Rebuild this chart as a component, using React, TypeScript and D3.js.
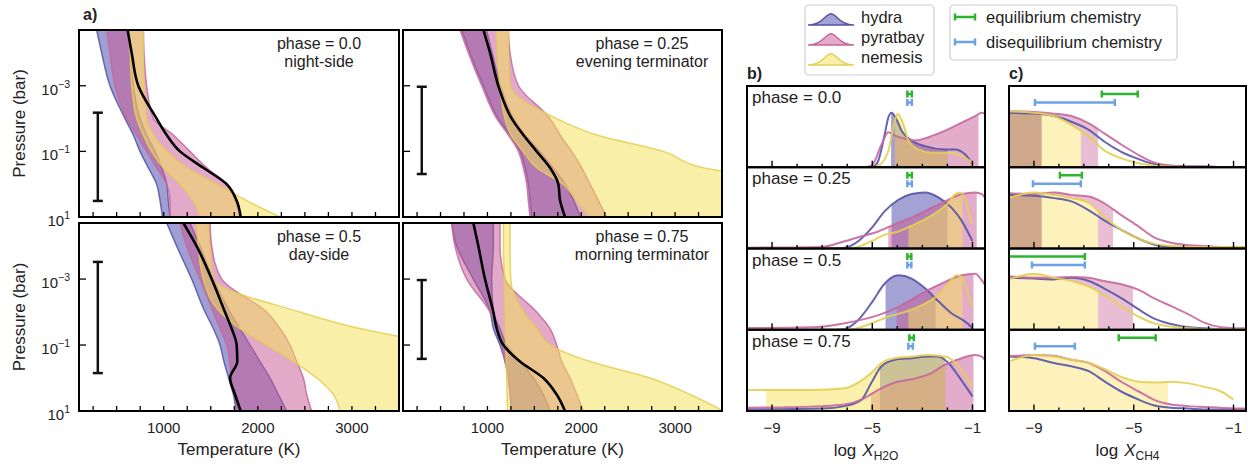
import React from "react";
import * as d3 from "d3";

// ---------------- panel a: temperature-pressure profiles ----------------
const logP = [-4.7, -4, -3, -2, -1.5, -1, -0.5, 0, 0.5, 1];
const phaseTitles = ["phase = 0.0", "phase = 0.25", "phase = 0.5", "phase = 0.75"];
const phaseNames = ["night-side", "evening terminator", "day-side", "morning terminator"];

// envelopes (K) on the logP levels, one row per phase
const hydraLo = [
  [288, 341, 429, 589, 677, 748, 837, 925, 961, 986],
  [725, 814, 957, 1116, 1241, 1348, 1401, 1436, 1454, 1472],
  [1032, 1138, 1297, 1439, 1527, 1598, 1640, 1690, 1740, 1770],
  [619, 672, 850, 1030, 1063, 1134, 1188, 1223, 1241, 1259],
];
const hydraHi = [
  [624, 642, 677, 748, 819, 908, 978, 1032, 1049, 1067],
  [990, 1050, 1140, 1280, 1400, 1560, 1700, 1830, 1920, 1990],
  [1279, 1386, 1527, 1705, 1811, 1917, 2023, 2130, 2218, 2307],
  [1063, 1063, 1045, 1063, 1134, 1205, 1347, 1490, 1596, 1667],
];
const pyratLo = [
  [394, 429, 483, 607, 713, 819, 925, 1032, 1067, 1067],
  [708, 797, 939, 1099, 1223, 1330, 1383, 1419, 1436, 1454],
  [1173, 1244, 1386, 1527, 1598, 1669, 1700, 1720, 1760, 1775],
  [619, 654, 779, 1028, 1099, 1152, 1188, 1223, 1241, 1259],
];
const pyratHi = [
  [784, 791, 819, 890, 1102, 1279, 1457, 1669, 1758, 1811],
  [1223, 1241, 1330, 1667, 1774, 1898, 2005, 2094, 2183, 2272],
  [1492, 1510, 1616, 2094, 2236, 2342, 2413, 2484, 2519, 2572],
  [1134, 1134, 1188, 1525, 1667, 1738, 1792, 1880, 1952, 2023],
];
const nemesisLo = [
  [624, 642, 660, 713, 784, 872, 996, 1173, 1315, 1386],
  [1099, 1106, 1134, 1187, 1250, 1380, 1525, 1806, 1952, 2090],
  [1350, 1368, 1421, 1598, 1811, 2094, 2378, 2626, 2803, 2873],
  [1170, 1170, 1180, 1188, 1190, 1195, 1200, 1205, 1210, 1215],
];
const nemesisHi = [
  [784, 784, 791, 819, 890, 1032, 1244, 1563, 1882, 2236],
  [1223, 1223, 1241, 1738, 2165, 2876, 3300, 4500, 5500, 6500],
  [1474, 1485, 1527, 2448, 3086, 4000, 5000, 6000, 7000, 8000],
  [1241, 1241, 1248, 1383, 1525, 1667, 2094, 2733, 3160, 3515],
];
const refProfile = [
  [617, 660, 730, 925, 1032, 1173, 1421, 1669, 1775, 1818],
  [957, 1028, 1116, 1259, 1383, 1525, 1667, 1756, 1774, 1827],
  [1209, 1350, 1510, 1651, 1722, 1775, 1782, 1705, 1758, 1818],
  [850, 903, 974, 1063, 1099, 1170, 1347, 1596, 1738, 1827],
];
const probedRange = [[-2.18, 0.51], [-2.97, -0.31], [-3.52, -0.15], [-2.97, -0.58]];
const tempTicks = [1000, 2000, 3000];
const pressTicks = [-3, -1, 1];

// ---------------- panel b: log X_H2O posteriors ([logX, density]) ----------------
const bHydra = [
  [[-10, 0], [-5.2, 0], [-4.95, 0.01], [-4.76, 0.08], [-4.5, 0.41], [-4.36, 0.61], [-4.23, 0.67], [-4.05, 0.6], [-3.83, 0.45], [-3.43, 0.33], [-2.9, 0.26], [-2.1, 0.22], [-1.7, 0.22], [-1.3, 0.16], [-1.0, 0.04]],
  [[-10, 0], [-6.5, 0], [-6.1, 0.01], [-5.56, 0.09], [-5.03, 0.25], [-4.5, 0.46], [-3.96, 0.6], [-3.43, 0.67], [-2.89, 0.69], [-2.36, 0.63], [-1.83, 0.5], [-1.43, 0.34], [-1.0, 0.09]],
  [[-10, 0], [-6.5, 0], [-6.1, 0.01], [-5.56, 0.12], [-5.03, 0.33], [-4.5, 0.57], [-3.96, 0.67], [-3.43, 0.63], [-2.89, 0.51], [-2.36, 0.35], [-1.83, 0.2], [-1.29, 0.1], [-1.0, 0.02]],
  [[-10, 0.02], [-7, 0.03], [-6.1, 0.06], [-5.43, 0.14], [-5.03, 0.35], [-4.63, 0.55], [-4.09, 0.63], [-3.43, 0.65], [-2.76, 0.67], [-2.36, 0.67], [-1.96, 0.59], [-1.56, 0.43], [-1.0, 0.18]],
];
const bPyrat = [
  [[-10, 0], [-5.3, 0], [-5.0, 0.03], [-4.63, 0.28], [-4.36, 0.43], [-4.09, 0.39], [-3.69, 0.35], [-3.29, 0.33], [-2.76, 0.37], [-2.09, 0.45], [-1.43, 0.55], [-0.89, 0.63], [-0.63, 0.67], [-0.3, 0.6]],
  [[-10, 0.01], [-7, 0.02], [-6.1, 0.09], [-5.43, 0.15], [-4.76, 0.21], [-4.09, 0.3], [-3.43, 0.38], [-2.76, 0.48], [-2.09, 0.58], [-1.43, 0.67], [-0.89, 0.69], [-0.63, 0.67], [-0.36, 0.55]],
  [[-10, 0.02], [-7.43, 0.03], [-6.1, 0.08], [-4.76, 0.18], [-4.09, 0.26], [-3.43, 0.37], [-2.76, 0.49], [-2.09, 0.59], [-1.43, 0.67], [-0.89, 0.69], [-0.63, 0.61], [-0.4, 0.5]],
  [[-10, 0.04], [-7, 0.06], [-6.1, 0.08], [-5.43, 0.14], [-4.76, 0.26], [-4.09, 0.35], [-3.43, 0.39], [-2.76, 0.45], [-2.09, 0.57], [-1.43, 0.65], [-0.89, 0.69], [-0.63, 0.67], [-0.36, 0.55]],
];
const bNemesis = [
  [[-10, 0], [-5, 0], [-4.7, 0.03], [-4.5, 0.1], [-4.36, 0.2], [-4.16, 0.49], [-3.99, 0.66], [-3.76, 0.53], [-3.56, 0.33], [-3.16, 0.22], [-2.63, 0.18], [-1.96, 0.18], [-1.43, 0.14], [-1.03, 0.06]],
  [[-10, 0], [-6, 0], [-5.7, 0.01], [-5.03, 0.09], [-4.5, 0.17], [-3.96, 0.21], [-3.43, 0.28], [-2.89, 0.36], [-2.36, 0.46], [-1.96, 0.56], [-1.69, 0.67], [-1.49, 0.69], [-1.29, 0.6], [-1.03, 0.3]],
  [[-10, 0], [-6, 0], [-5.7, 0.01], [-5.03, 0.08], [-4.36, 0.16], [-3.69, 0.22], [-3.03, 0.3], [-2.36, 0.43], [-1.96, 0.57], [-1.63, 0.67], [-1.43, 0.65], [-1.23, 0.49], [-1.03, 0.28]],
  [[-10, 0.26], [-8.76, 0.26], [-7.43, 0.26], [-6.1, 0.28], [-5.56, 0.35], [-5.03, 0.47], [-4.63, 0.59], [-4.09, 0.65], [-3.43, 0.67], [-2.76, 0.69], [-2.09, 0.67], [-1.56, 0.55], [-1.03, 0.3]],
];
const bHydraCI = [[-4.25, -2.0], [-4.23, -2.0], [-4.47, -2.47], [-4.69, -2.09]];
const bPyratCI = [[-4.1, -0.76], [-4.36, -0.83], [-4.03, -0.96], [-5.05, -0.96]];
const bNemesisCI = [[-4.1, -2.0], [-3.56, -1.4], [-3.56, -1.4], [-9.23, -2.09]];
const bEquil = [[-3.6, -3.42], [-3.6, -3.42], [-3.6, -3.44], [-3.52, -3.34]];
const bDiseq = [[-3.6, -3.42], [-3.6, -3.42], [-3.6, -3.44], [-3.56, -3.38]];

// ---------------- panel c: log X_CH4 posteriors ----------------
const cGrid = [-10, -9, -8.2, -7.5, -6.8, -6.2, -5.5, -4.8, -4.2, -3.5, -2.8, -2.2, -1.5, -1, -0.5];
const cHydra = [
  [0.67, 0.66, 0.63, 0.56, 0.46, 0.32, 0.19, 0.1, 0.04, 0.02, 0.01, 0.01, 0.0, 0.0, 0.0],
  [0.66, 0.65, 0.62, 0.58, 0.47, 0.35, 0.23, 0.12, 0.05, 0.02, 0.01, 0.01, 0.01, 0.01, 0.01],
  [0.64, 0.63, 0.62, 0.64, 0.6, 0.51, 0.39, 0.25, 0.14, 0.07, 0.03, 0.02, 0.01, 0.01, 0.01],
  [0.67, 0.65, 0.59, 0.55, 0.49, 0.37, 0.24, 0.14, 0.07, 0.04, 0.03, 0.02, 0.02, 0.02, 0.02],
];
const cPyrat = [
  [0.69, 0.68, 0.66, 0.63, 0.54, 0.42, 0.28, 0.15, 0.06, 0.02, 0.01, 0.01, 0.0, 0.0, 0.0],
  [0.68, 0.67, 0.69, 0.66, 0.64, 0.56, 0.41, 0.27, 0.14, 0.07, 0.04, 0.03, 0.02, 0.02, 0.02],
  [0.66, 0.64, 0.64, 0.65, 0.64, 0.6, 0.56, 0.49, 0.39, 0.29, 0.19, 0.09, 0.03, 0.02, 0.02],
  [0.67, 0.69, 0.68, 0.63, 0.59, 0.5, 0.36, 0.24, 0.14, 0.08, 0.06, 0.05, 0.04, 0.03, 0.03],
];
const cNemesis = [
  [0.69, 0.67, 0.63, 0.52, 0.38, 0.21, 0.11, 0.05, 0.02, 0.01, 0.0, 0.0, 0.0, 0.0, 0.0],
  [0.62, 0.69, 0.66, 0.62, 0.56, 0.39, 0.23, 0.12, 0.06, 0.03, 0.02, 0.02, 0.02, 0.02, 0.02],
  [0.62, 0.69, 0.64, 0.6, 0.53, 0.43, 0.29, 0.16, 0.08, 0.04, 0.02, 0.01, 0.01, 0.01, 0.01],
  [0.61, 0.69, 0.67, 0.63, 0.59, 0.52, 0.42, 0.36, 0.35, 0.36, 0.34, 0.3, 0.24, 0.14, NaN],
];
const cHydraCI = [[-10, -8.69], [-10, -8.69], null, null];
const cPyratCI = [[-10, -6.43], [-10, -5.83], [-10, -5.03], null];
const cNemesisCI = [[-10, -7.12], [-10, -6.43], [-10, -6.43], [-10, -3.63]];
const cEquil = [[-6.28, -4.84], [-7.96, -7.08], [-10.5, -6.96], [-5.6, -4.12]];
const cDiseq = [[-8.96, -5.76], [-9.04, -7.12], [-9.08, -6.96], [-8.96, -7.36]];

const logXTicks = [-9, -8, -7, -6, -5, -4, -3, -2, -1];
const logXLabels = [-9, -5, -1];
const legendBump = [0, 0.04, 0.2, 0.6, 1, 0.6, 0.2, 0.04, 0];

const FONT = "'Liberation Sans', Arial, Helvetica, sans-serif";
const COL = {
  hydra: { fill: "#4646aa", line: "#5753a6", solid: "#cfa88c" },
  pyrat: { fill: "#c85a96", line: "#c5679d", solid: "#e9bed5" },
  nemesis: { fill: "#f5e15a", line: "#e3cf52", solid: "#fdf2bc" },
};
const GREEN = "#2db52d";
const BLUE = "#6fa1e6";

const aPanels = [
  { x0: 79, x1: 399, y0: 30, y1: 217 },
  { x0: 403, x1: 722, y0: 30, y1: 217 },
  { x0: 79, x1: 399, y0: 223, y1: 411 },
  { x0: 403, x1: 722, y0: 223, y1: 411 },
];

function ProfilePanel({ i }: { i: number }) {
  const p = aPanels[i];
  const x = d3.scaleLinear().domain([100, 3500]).range([p.x0, p.x1]);
  const y = d3.scaleLinear().domain([-4.7, 1]).range([p.y0, p.y1]);
  const band = (lo: number[], hi: number[]) =>
    d3.area<number>()
      .y((d) => y(d))
      .x0((_, k) => x(lo[k]))
      .x1((_, k) => x(hi[k]))
      .curve(d3.curveMonotoneY)(logP) as string;
  const ref = d3.line<number>()
    .x((_, k) => x(refProfile[i][k]))
    .y((d) => y(d))
    .curve(d3.curveMonotoneY)(logP) as string;
  const bands = [
    { d: band(hydraLo[i], hydraHi[i]), c: COL.hydra },
    { d: band(pyratLo[i], pyratHi[i]), c: COL.pyrat },
    { d: band(nemesisLo[i], nemesisHi[i]), c: COL.nemesis },
  ];
  const cid = `clipA${i}`;
  const left = i % 2 === 0;
  const bottom = i >= 2;
  const ex = x(300);
  const [eLo, eHi] = probedRange[i];
  const cx = p.x1 - 80;
  return (
    <g>
      <clipPath id={cid}>
        <rect x={p.x0} y={p.y0} width={p.x1 - p.x0} height={p.y1 - p.y0} />
      </clipPath>
      <g clipPath={`url(#${cid})`}>
        {bands.map((b, k) => (
          <path key={k} d={b.d} fill={b.c.fill} fillOpacity={0.52} stroke={b.c.line} strokeOpacity={0.85} strokeWidth={1.5} />
        ))}
        <path d={ref} fill="none" stroke="#000" strokeWidth={2.6} />
      </g>
      {/* pressure range probed */}
      <g stroke="#111" strokeWidth={2.5}>
        <line x1={ex} x2={ex} y1={y(eLo)} y2={y(eHi)} />
        <line x1={ex - 5} x2={ex + 5} y1={y(eLo)} y2={y(eLo)} />
        <line x1={ex - 5} x2={ex + 5} y1={y(eHi)} y2={y(eHi)} />
      </g>
      {/* ticks */}
      <g stroke="#000" strokeWidth={1.3}>
        {d3.range(250, 3500, 250).map((t) => (
          <line key={t} x1={x(t)} x2={x(t)} y1={p.y1} y2={p.y1 - 5} />
        ))}
        {pressTicks.slice(0, 2).map((t) => (
          <line key={t} x1={p.x0} x2={p.x0 + 7} y1={y(t)} y2={y(t)} />
        ))}
      </g>
      <rect x={p.x0} y={p.y0} width={p.x1 - p.x0} height={p.y1 - p.y0} fill="none" stroke="#000" strokeWidth={2} />
      <text x={cx} y={p.y0 + 19} textAnchor="middle" fontSize={16}>{phaseTitles[i]}</text>
      <text x={cx} y={p.y0 + 37} textAnchor="middle" fontSize={16}>{phaseNames[i]}</text>
      {left &&
        pressTicks.map((t) => (
          <text key={t} x={70} y={y(t) + 9} textAnchor="end" fontSize={15}>
            10<tspan dy={-7} fontSize={10.5}>{t < 0 ? `\u2212${-t}` : t}</tspan>
          </text>
        ))}
      {left && (
        <text transform={`translate(25,${(p.y0 + p.y1) / 2}) rotate(-90)`} textAnchor="middle" fontSize={17}>
          Pressure (bar)
        </text>
      )}
      {bottom && (
        <g>
          {tempTicks.map((t) => (
            <text key={t} x={x(t)} y={p.y1 + 22} textAnchor="middle" fontSize={15}>{t}</text>
          ))}
          <text x={(p.x0 + p.x1) / 2} y={455} textAnchor="middle" fontSize={17}>Temperature (K)</text>
        </g>
      )}
    </g>
  );
}

type Pt = [number, number];

function KdeColumn(props: {
  id: string;
  x0: number;
  x1: number;
  curves: Pt[][][];
  cis: (number[] | null)[][];
  equil: number[][];
  diseq: number[][];
  solid: boolean;
  phases: boolean;
  species: string;
}) {
  const { id, x0, x1, curves, cis, equil, diseq, solid, phases, species } = props;
  const x = d3.scaleLinear().domain([-10, -0.5]).range([x0, x1]);
  const cols = [COL.hydra, COL.pyrat, COL.nemesis];
  const fillOrder = solid ? [1, 2, 0] : [0, 1, 2];
  const rowH = 81.25;
  return (
    <g>
      {[0, 1, 2, 3].map((r) => {
        const top = 86 + r * rowH;
        const bot = top + rowH;
        const y = d3.scaleLinear().domain([0, 1]).range([bot, top]);
        const area = d3.area<Pt>()
          .defined((d) => !isNaN(d[1]))
          .x((d) => x(d[0]))
          .y0(bot)
          .y1((d) => y(d[1]))
          .curve(d3.curveMonotoneX);
        const line = d3.line<Pt>()
          .defined((d) => !isNaN(d[1]))
          .x((d) => x(d[0]))
          .y((d) => y(d[1]))
          .curve(d3.curveMonotoneX);
        const rid = `${id}r${r}`;
        const bar = (rng: number[], yy: number, c: string) => (
          <g stroke={c} strokeWidth={2.5}>
            <line x1={x(rng[0])} x2={x(rng[1])} y1={yy} y2={yy} />
            <line x1={x(rng[0])} x2={x(rng[0])} y1={yy - 3.5} y2={yy + 3.5} />
            <line x1={x(rng[1])} x2={x(rng[1])} y1={yy - 3.5} y2={yy + 3.5} />
          </g>
        );
        return (
          <g key={r}>
            <clipPath id={rid}>
              <rect x={x0} y={top} width={x1 - x0} height={rowH} />
            </clipPath>
            {fillOrder.map((m) => {
              const ci = cis[m][r];
              if (!ci) return null;
              const fid = `${rid}f${m}`;
              return (
                <g key={m}>
                  <clipPath id={fid}>
                    <rect x={Math.max(x(ci[0]), x0)} y={top} width={Math.max(0, x(ci[1]) - Math.max(x(ci[0]), x0))} height={rowH} />
                  </clipPath>
                  <path
                    d={area(curves[m][r]) as string}
                    clipPath={`url(#${fid})`}
                    fill={solid ? cols[m].solid : cols[m].fill}
                    fillOpacity={solid ? 1 : 0.5}
                  />
                </g>
              );
            })}
            <g clipPath={`url(#${rid})`}>
              {[0, 1, 2].map((m) => (
                <path key={m} d={line(curves[m][r]) as string} fill="none" stroke={cols[m].line} strokeWidth={2} strokeOpacity={0.9} />
              ))}
              {bar(equil[r], top + 8, GREEN)}
              {bar(diseq[r], top + 16.5, BLUE)}
            </g>
            <g stroke="#000" strokeWidth={1.4}>
              {logXTicks.map((t) => (
                <line key={t} x1={x(t)} x2={x(t)} y1={bot} y2={bot - (logXLabels.includes(t) ? 6.5 : 3.5)} />
              ))}
            </g>
            <rect x={x0} y={top} width={x1 - x0} height={rowH} fill="none" stroke="#000" strokeWidth={2} />
            {phases && (
              <text x={x0 + 5} y={top + 17} fontSize={17}>{phaseTitles[r]}</text>
            )}
          </g>
        );
      })}
      {logXLabels.map((t) => (
        <text key={t} x={x(t)} y={433} textAnchor="middle" fontSize={15}>{`\u2212${-t}`}</text>
      ))}
      <text x={(x0 + x1) / 2} y={456} textAnchor="middle" fontSize={17}>
        log<tspan dx={6} fontStyle="italic">X</tspan>
        <tspan fontSize={12} dy={4}>{species}</tspan>
      </text>
    </g>
  );
}

function Legends() {
  const bx = d3.scaleLinear().domain([0, legendBump.length - 1]).range([808, 854]);
  const bump = (base: number, h: number) =>
    d3.area<number>().x((_, k) => bx(k)).y0(base).y1((d) => base - d * h).curve(d3.curveBasis)(legendBump) as string;
  const items = [
    { name: "hydra", c: COL.hydra, base: 25 },
    { name: "pyratbay", c: COL.pyrat, base: 45 },
    { name: "nemesis", c: COL.nemesis, base: 65 },
  ];
  const bars = [
    { name: "equilibrium chemistry", c: GREEN, y: 17 },
    { name: "disequilibrium chemistry", c: BLUE, y: 42 },
  ];
  return (
    <g>
      <rect x={805} y={5} width={129} height={70} rx={4} fill="#fff" stroke="#d0d0d0" strokeWidth={1.2} />
      {items.map((it) => (
        <g key={it.name}>
          <path d={bump(it.base, 13)} fill={it.c.fill} fillOpacity={0.5} stroke={it.c.line} strokeWidth={1.5} />
          <text x={861} y={it.base - 2} fontSize={16.5}>{it.name}</text>
        </g>
      ))}
      <rect x={950} y={5} width={227} height={55} rx={4} fill="#fff" stroke="#d0d0d0" strokeWidth={1.2} />
      {bars.map((b) => (
        <g key={b.name}>
          <g stroke={b.c} strokeWidth={2.5}>
            <line x1={955} x2={975} y1={b.y} y2={b.y} />
            <line x1={955} x2={955} y1={b.y - 3.5} y2={b.y + 3.5} />
            <line x1={975} x2={975} y1={b.y - 3.5} y2={b.y + 3.5} />
          </g>
          <text x={986} y={b.y + 5.5} fontSize={16.5}>{b.name}</text>
        </g>
      ))}
    </g>
  );
}

export default function App() {
  const cPairs = (rows: number[][]) => rows.map((v) => v.map((d, k) => [cGrid[k], d] as Pt));
  return (
    <svg
      width={1248}
      height={468}
      style={{ position: "absolute", left: 0, top: 0, background: "#fff" }}
      fontFamily={FONT}
      fill="#222"
    >
      {[0, 1, 2, 3].map((i) => (
        <ProfilePanel key={i} i={i} />
      ))}
      <KdeColumn
        id="b"
        x0={747}
        x1={985}
        curves={[bHydra as Pt[][], bPyrat as Pt[][], bNemesis as Pt[][]]}
        cis={[bHydraCI, bPyratCI, bNemesisCI]}
        equil={bEquil}
        diseq={bDiseq}
        solid={false}
        phases={true}
        species="H2O"
      />
      <KdeColumn
        id="c"
        x0={1009}
        x1={1246}
        curves={[cPairs(cHydra), cPairs(cPyrat), cPairs(cNemesis)]}
        cis={[cHydraCI, cPyratCI, cNemesisCI]}
        equil={cEquil}
        diseq={cDiseq}
        solid={true}
        phases={false}
        species="CH4"
      />
      <Legends />
      <text x={83} y={20} fontSize={16} fontWeight="bold">a)</text>
      <text x={747} y={79} fontSize={16} fontWeight="bold">b)</text>
      <text x={1009} y={79} fontSize={16} fontWeight="bold">c)</text>
    </svg>
  );
}
